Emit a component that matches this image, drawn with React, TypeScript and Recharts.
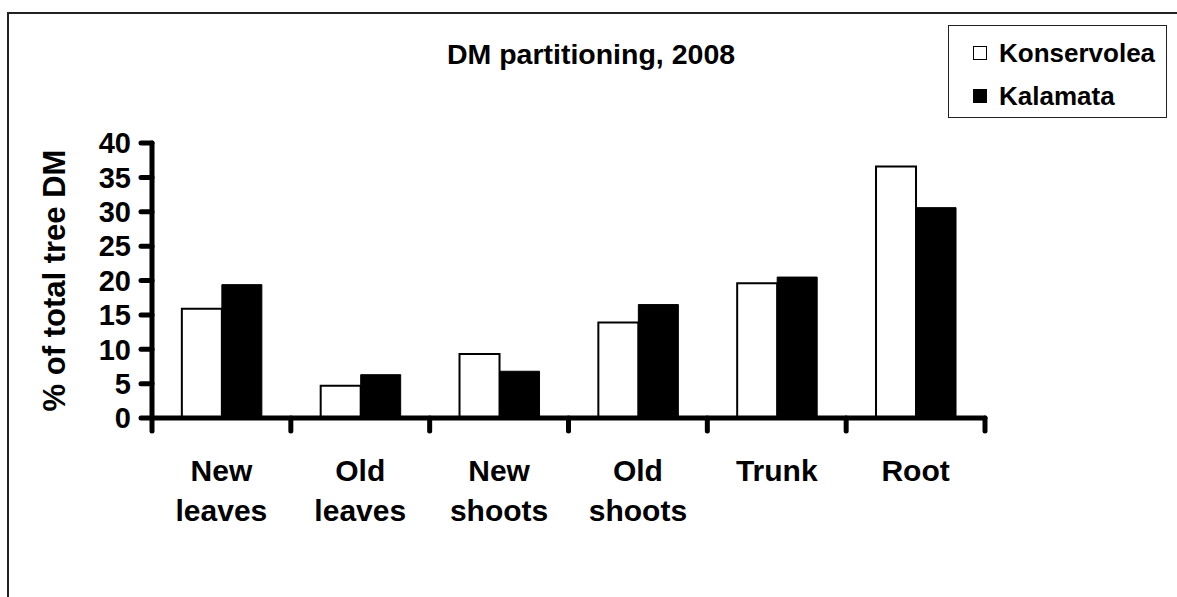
import { BarChart, Bar, XAxis, YAxis } from "recharts";

const CATEGORIES = ["New leaves", "Old leaves", "New shoots", "Old shoots", "Trunk", "Root"];
const KONSERVOLEA = [15.9, 4.7, 9.3, 13.9, 19.6, 36.6];
const KALAMATA = [19.4, 6.3, 6.8, 16.5, 20.5, 30.6];
const Y_TICKS = [0, 5, 10, 15, 20, 25, 30, 35, 40];

const FONT = '"Liberation Sans", Arial, sans-serif';

const data = CATEGORIES.map((name, i) => ({
  name,
  konservolea: KONSERVOLEA[i],
  kalamata: KALAMATA[i],
}));

// category label, two lines, plus the tick marks at the band edges
function CategoryTick(props: any) {
  const { x, y, payload, index, visibleTicksCount } = props;
  const half = payload.offset || 0;
  const lines = String(payload.value).split(" ");
  const tick = (tx: number) => (
    <line x1={tx} x2={tx} y1={y} y2={y + 13} stroke="#000" strokeWidth={5} strokeLinecap="round" />
  );
  return (
    <g>
      {tick(x - half)}
      {index === visibleTicksCount - 1 && tick(x + half)}
      <text x={x} y={y} textAnchor="middle" fill="#000" fontSize={30} fontWeight="bold" fontFamily={FONT}>
        {lines.map((l, i) => (
          <tspan key={i} x={x} y={y + 63 + i * 40}>
            {l}
          </tspan>
        ))}
      </text>
    </g>
  );
}

function YLabel(props: any) {
  const { viewBox } = props;
  const cx = viewBox.x - 38;
  const cy = viewBox.y + viewBox.height / 2;
  return (
    <text
      x={cx}
      y={cy}
      transform={`rotate(-90, ${cx}, ${cy})`}
      textAnchor="middle"
      dominantBaseline="central"
      fill="#000"
      fontSize={31}
      fontWeight="bold"
      fontFamily={FONT}
    >
      % of total tree DM
    </text>
  );
}

export default function App() {
  return (
    <div
      style={{
        position: "absolute",
        left: 0,
        top: 0,
        width: 1177,
        height: 597,
        overflow: "hidden",
        background: "#fff",
        fontFamily: FONT,
      }}
    >
      <div
        style={{
          position: "absolute",
          left: 7,
          top: 12,
          width: 1400,
          height: 800,
          borderLeft: "2px solid #222",
          borderTop: "2px solid #222",
        }}
      />
      <div
        style={{
          position: "absolute",
          left: 391,
          top: 38,
          width: 400,
          textAlign: "center",
          fontSize: 28.5,
          fontWeight: "bold",
          color: "#000",
          lineHeight: "32px",
        }}
      >
        DM partitioning, 2008
      </div>
      <div
        style={{
          position: "absolute",
          left: 948,
          top: 25,
          width: 217,
          height: 91,
          border: "1px solid #222",
          fontSize: 26,
          fontWeight: "bold",
          color: "#000",
        }}
      >
        {[
          { label: "Konservolea", fill: "#fff", top: 13 },
          { label: "Kalamata", fill: "#000", top: 56 },
        ].map((s) => (
          <div
            key={s.label}
            style={{ position: "absolute", left: 24, top: s.top, display: "flex", alignItems: "center", lineHeight: "28px" }}
          >
            <span
              style={{
                display: "inline-block",
                width: 12,
                height: 12,
                border: "1.5px solid #000",
                background: s.fill,
                marginRight: 12,
              }}
            />
            {s.label}
          </div>
        ))}
      </div>
      <div style={{ position: "absolute", left: 0, top: 0 }}>
        <BarChart
          width={1177}
          height={597}
          data={data}
          margin={{ top: 143, right: 192, bottom: 178, left: 92 }}
          barCategoryGap="21.5%"
          barGap={0}
        >
          <XAxis
            dataKey="name"
            height={1}
            interval={0}
            tickLine={false}
            tickSize={0}
            tickMargin={0}
            axisLine={{ stroke: "#000", strokeWidth: 5, strokeLinecap: "round" }}
            tick={<CategoryTick />}
          />
          <YAxis
            domain={[0, 40]}
            ticks={Y_TICKS}
            interval={0}
            width={60}
            tickSize={11}
            tickMargin={10}
            axisLine={{ stroke: "#000", strokeWidth: 5, strokeLinecap: "round" }}
            tickLine={{ stroke: "#000", strokeWidth: 5, strokeLinecap: "round" }}
            tick={{ fill: "#000", fontSize: 29, fontWeight: "bold", fontFamily: FONT }}
            label={<YLabel />}
          />
          <Bar
            dataKey="konservolea"
            name="Konservolea"
            fill="#fff"
            stroke="#000"
            strokeWidth={2}
            isAnimationActive={false}
          />
          <Bar
            dataKey="kalamata"
            name="Kalamata"
            fill="#000"
            stroke="#000"
            strokeWidth={1}
            isAnimationActive={false}
          />
        </BarChart>
      </div>
    </div>
  );
}
